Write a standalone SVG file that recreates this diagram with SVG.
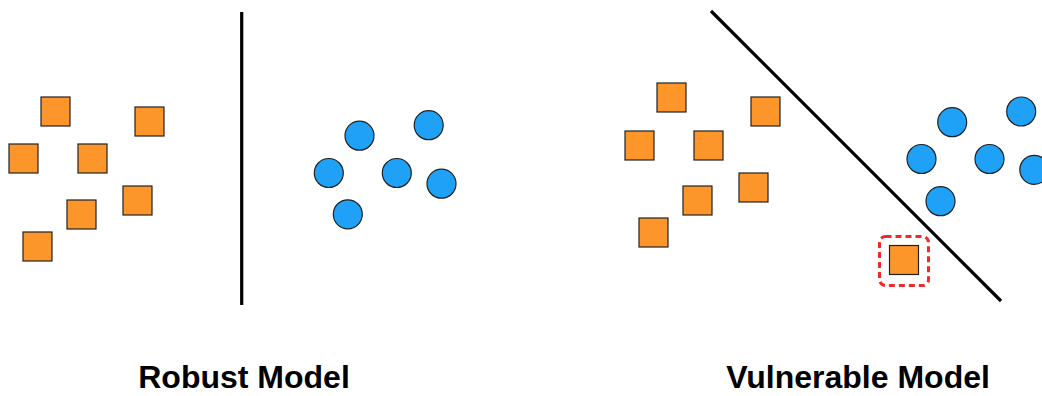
<svg xmlns="http://www.w3.org/2000/svg" width="1042" height="396" viewBox="0 0 1042 396">
<style>
.sq{fill:#FC962B;stroke:#222;stroke-width:1.2}
.ci{fill:#1EA1F7;stroke:#222;stroke-width:1.2}
.ln{stroke:#000;stroke-width:3.2;fill:none}
.lbl{font-family:"Liberation Sans",Arial,sans-serif;font-weight:bold;font-size:32px;fill:#000;text-anchor:middle}
</style>
<rect width="1042" height="396" fill="#fff"/>
<g id="robust-squares">
<rect class="sq" x="41" y="97" width="29" height="29"/>
<rect class="sq" x="135" y="107" width="29" height="29"/>
<rect class="sq" x="9" y="144" width="29" height="29"/>
<rect class="sq" x="78" y="144" width="29" height="29"/>
<rect class="sq" x="123" y="186" width="29" height="29"/>
<rect class="sq" x="67" y="200" width="29" height="29"/>
<rect class="sq" x="23" y="232" width="29" height="29"/>
</g>
<g id="robust-circles">
<circle class="ci" cx="359.5" cy="135.7" r="14.5"/>
<circle class="ci" cx="428.7" cy="125.2" r="14.5"/>
<circle class="ci" cx="328.8" cy="173" r="14.5"/>
<circle class="ci" cx="396.8" cy="173" r="14.5"/>
<circle class="ci" cx="441.5" cy="183.7" r="14.5"/>
<circle class="ci" cx="347.8" cy="214.3" r="14.5"/>
</g>
<g id="vulnerable-squares">
<rect class="sq" x="657" y="83" width="29" height="29"/>
<rect class="sq" x="751" y="97" width="29" height="29"/>
<rect class="sq" x="625" y="131" width="29" height="29"/>
<rect class="sq" x="694" y="131" width="29" height="29"/>
<rect class="sq" x="739" y="173" width="29" height="29"/>
<rect class="sq" x="683" y="186" width="29" height="29"/>
<rect class="sq" x="639" y="218" width="29" height="29"/>
</g>
<g id="vulnerable-circles">
<circle class="ci" cx="952.2" cy="122.2" r="14.5"/>
<circle class="ci" cx="1021.2" cy="111.5" r="14.5"/>
<circle class="ci" cx="921.5" cy="159" r="14.5"/>
<circle class="ci" cx="989.5" cy="159" r="14.5"/>
<circle class="ci" cx="1034.3" cy="169.8" r="14.5"/>
<circle class="ci" cx="940.5" cy="201.2" r="14.5"/>
</g>
<g id="adversarial-example">
<rect x="879.5" y="236.5" width="49" height="49" rx="6" fill="none" stroke="#EE2A2A" stroke-width="3" stroke-dasharray="6 4"/>
<rect class="sq" x="889.5" y="245.5" width="29" height="29"/>
</g>
<g id="connectors">
<line class="ln" x1="241.7" y1="12" x2="241.7" y2="305"/>
<line class="ln" x1="711" y1="11" x2="1001" y2="301"/>
</g>
<g id="labels">
<text class="lbl" x="244" y="388">Robust Model</text>
<text class="lbl" x="858" y="388">Vulnerable Model</text>
</g>
</svg>
